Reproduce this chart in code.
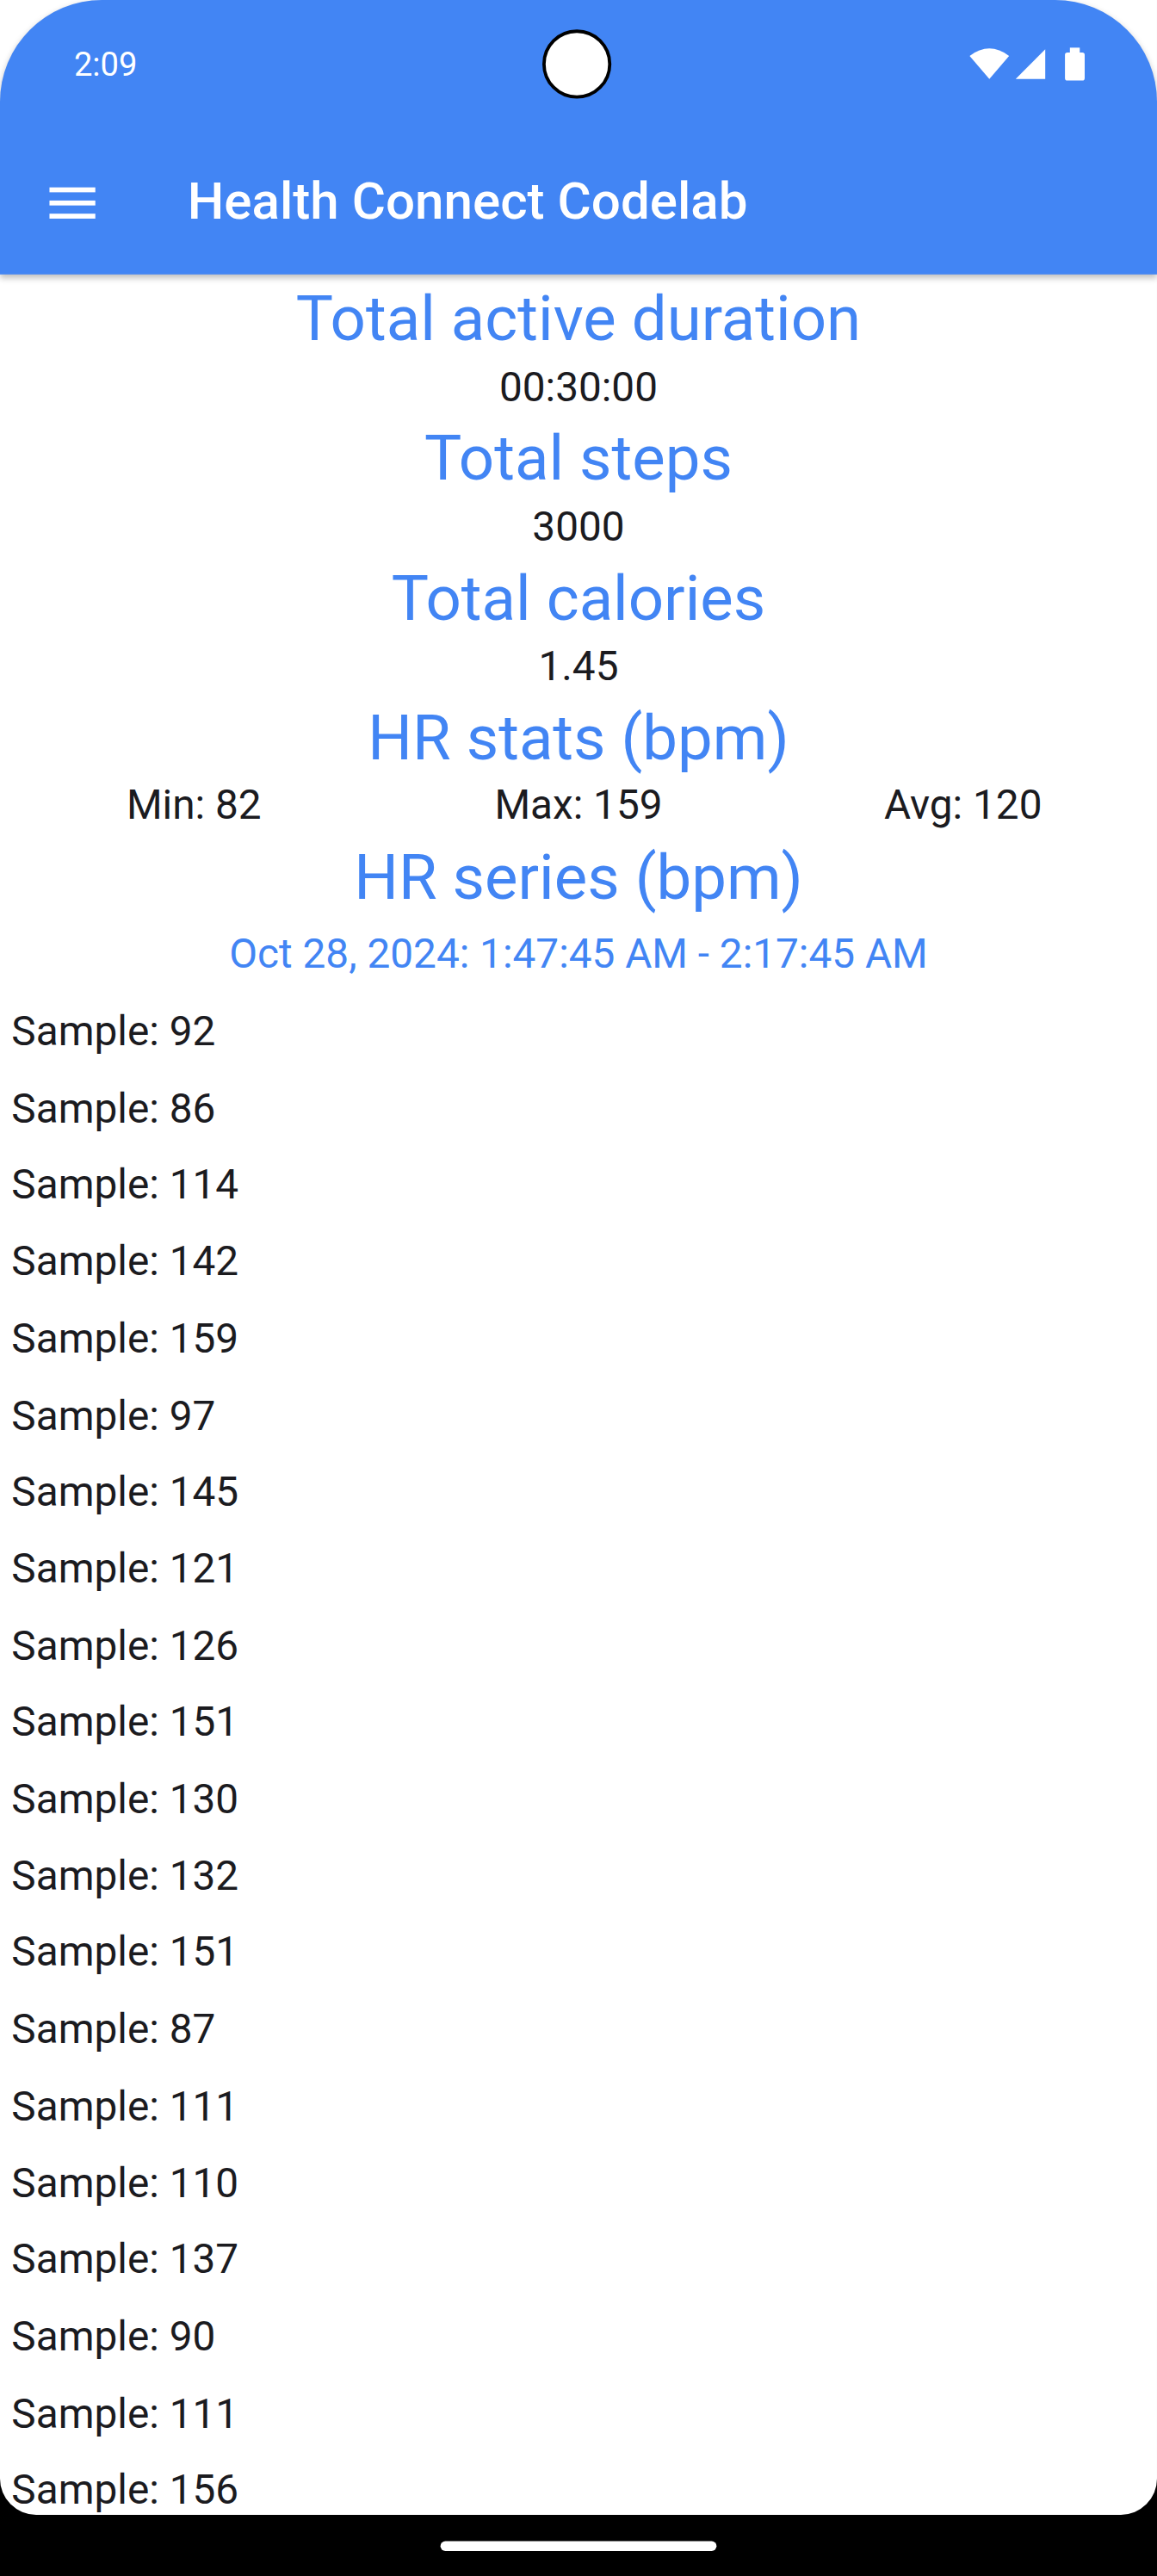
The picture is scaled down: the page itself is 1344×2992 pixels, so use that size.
<!DOCTYPE html>
<html>
<head>
<meta charset="utf-8">
<script src="https://cdn.jsdelivr.net/npm/chart.js@4"></script>
<style>
html,body{margin:0;padding:0;background:#fff;}
#screen{position:absolute;left:0;top:0;width:704px;height:1568px;transform:scale(1.90909);transform-origin:0 0;
  font-family:Roboto,"Noto Sans",sans-serif;overflow:hidden;background:#000;}
#inner{position:absolute;left:0;top:0;width:704px;height:1530px;background:#fff;border-radius:0 0 22px 22px;overflow:hidden;}
#bar{position:absolute;left:0;top:0;width:704px;height:167px;background:#4285F4;border-radius:62px 62px 0 0;box-shadow:0 2px 4px rgba(0,0,0,0.25);}
.abs{position:absolute;white-space:nowrap;}
.h{position:absolute;left:0;width:704px;text-align:center;color:#4285F4;font-size:38px;line-height:44px;}
.v{position:absolute;left:0;width:704px;text-align:center;color:#1b1b1f;font-size:25px;line-height:30px;}
.s{position:absolute;left:7px;color:#1b1b1f;font-size:25px;line-height:30px;}
</style>
</head>
<body>
<div id="screen">
  <div id="inner">
    <div id="bar"></div>
    <div class="abs" style="left:45px;top:27px;color:#fff;font-size:20px;">2:09</div>
    <div class="abs" style="left:330px;top:18px;width:42px;height:42px;border-radius:50%;background:#fff;box-sizing:border-box;border:2px solid #000;"></div>
    <svg class="abs" style="left:588px;top:28px" width="80" height="24" viewBox="0 0 80 24">
      <path d="M2 6 Q14 -3 26 6 L14 20 Z" fill="#fff"/>
      <path d="M48 2 L48 20 L30 20 Z" fill="#fff"/>
      <rect x="60" y="4" width="12" height="17" rx="1.5" fill="#fff"/><rect x="63" y="1" width="6" height="4" fill="#fff"/>
    </svg>
    <svg class="abs" style="left:30px;top:113px" width="30" height="22"><rect y="1" width="28" height="3" fill="#fff"/><rect y="9" width="28" height="3" fill="#fff"/><rect y="17" width="28" height="3" fill="#fff"/></svg>
    <div class="abs" style="left:114px;top:104px;color:#fff;font-size:31.5px;font-weight:500;">Health Connect Codelab</div>
    <div id="content"></div>
  </div>
  <div class="abs" style="left:268px;top:1546px;width:168px;height:6px;border-radius:3px;background:#fff;"></div>
</div>
<script>
var headings = ["Total active duration", "Total steps", "Total calories", "HR stats (bpm)", "HR series (bpm)"];
var values = ["00:30:00", "3000", "1.45"];
var hrStats = ["Min: 82", "Max: 159", "Avg: 120"];
var dateRange = "Oct 28, 2024: 1:47:45 AM - 2:17:45 AM";
var samples = [92, 86, 114, 142, 159, 97, 145, 121, 126, 151, 130, 132, 151, 87, 111, 110, 137, 90, 111, 156];

var c = document.getElementById("content");
function add(cls, top, text, extra) {
	var d = document.createElement("div");
	d.className = cls;
	d.style.top = top + "px";
	d.textContent = text;
	if (extra) d.style.cssText += extra;
	c.appendChild(d);
}
for (let i = 0; i < headings.length; i++) {
	add("h", 172 + i * 85, headings[i]);
	if (i < values.length) add("v", 221 + i * 85, values[i]);
}
var cx = [118, 352, 586];
for (let i = 0; i < hrStats.length; i++) {
	add("v", 475, hrStats[i], "left:" + (cx[i] - 150) + "px;width:300px;");
}
add("v", 566, dateRange, "color:#4285F4;");
for (let i = 0; i < samples.length; i++) {
	add("s", 613 + i * 46.7, "Sample: " + samples[i]);
}
</script>
</body>
</html>
